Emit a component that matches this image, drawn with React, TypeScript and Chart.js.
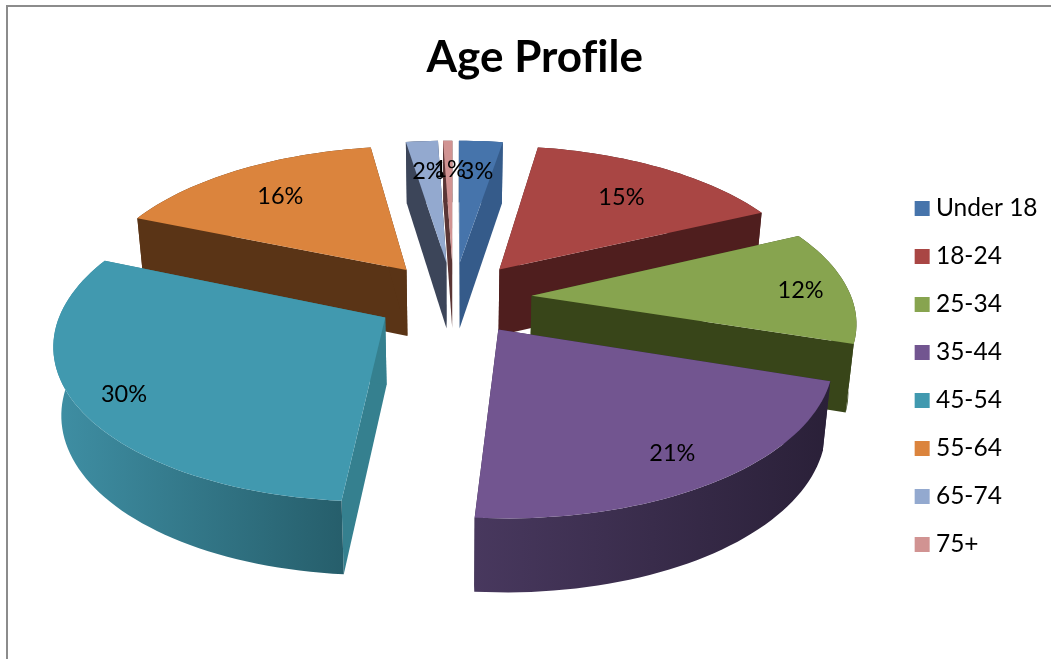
import React, { useEffect, useRef } from "react";
import { Chart, registerables } from "chart.js";

Chart.register(...registerables);

const categories = ["Under 18", "18-24", "25-34", "35-44", "45-54", "55-64", "65-74", "75+"];
const values = [2.6, 15.4, 12, 21.3, 30, 16.25, 1.9, 0.55];
const topColours = ["#4674AB", "#A94644", "#87A44F", "#725590", "#4199AF", "#DB843D", "#93A9CF", "#D19392"];
const faceColours = ["#355B8A", "#4F1E1E", "#384519", "#2E2340", "#35808F", "#5A3416", "#3C4559", "#5A3535"];
const wallLeft = ["#355B8A", "#4F1E1E", "#384519", "#48385E", "#3F8FA4", "#5A3416", "#3C4559", "#5A3535"];
const wallRight = ["#355B8A", "#4F1E1E", "#384519", "#2A2038", "#265E6B", "#5A3416", "#3C4559", "#5A3535"];
const labelReach = [0.75, 0.72, 0.85, 0.82, 0.86, 0.74, 0.75, 0.76];

const FONT = "Lato, 'Open Sans', sans-serif";
const CX = 453.5, CY = 298, RX = 320, RY = 150, DEPTH = 67, PERSPECTIVE = 0.15, EXPLODE = 0.245;

const project = (u: number, v: number, lower = false) => {
  const w = 1 - PERSPECTIVE * v;
  let x = CX + (RX * u) / w;
  let y = CY + (RY * v) / w;
  if (lower) {
    x = CX + (x - CX) * 0.98;
    y += DEPTH / Math.sqrt(w);
  }
  return { x, y };
};

const framePlugin = {
  id: "frame",
  beforeDraw(chart: any) {
    const { ctx, width, height } = chart;
    ctx.letterSpacing = "0.01px";
    ctx.save();
    ctx.fillStyle = "#ffffff";
    ctx.fillRect(0, 0, width, height);
    ctx.strokeStyle = "#8c8c8c";
    ctx.lineWidth = 2;
    ctx.beginPath();
    ctx.moveTo(7, height);
    ctx.lineTo(7, 6);
    ctx.lineTo(width, 6);
    ctx.stroke();
    ctx.restore();
  },
};

const pie3dPlugin = {
  id: "pie3d",
  beforeDatasetDraw() {
    return false;
  },
  afterDatasetsDraw(chart: any) {
    const { ctx } = chart;
    const arcs: any[] = chart.getDatasetMeta(0).data;
    const order = arcs
      .map((arc, i) => ({ arc, i, mid: (arc.startAngle + arc.endAngle) / 2 }))
      .sort((a, b) => Math.sin(a.mid) - Math.sin(b.mid));
    ctx.save();
    for (const { arc, i, mid } of order) {
      const ou = EXPLODE * Math.cos(mid);
      const ov = EXPLODE * Math.sin(mid);
      const pts: number[] = [];
      const steps = Math.max(2, Math.ceil((arc.endAngle - arc.startAngle) / 0.03));
      for (let s = 0; s <= steps; s++) pts.push(arc.startAngle + ((arc.endAngle - arc.startAngle) * s) / steps);
      const rim = (lower: boolean) => pts.map((a) => project(ou + Math.cos(a), ov + Math.sin(a), lower));
      const upper = rim(false);
      const under = rim(true);
      const tip = project(ou, ov);
      const tipLow = project(ou, ov, true);
      const fill = (poly: { x: number; y: number }[], style: any) => {
        ctx.beginPath();
        poly.forEach((p, n) => (n ? ctx.lineTo(p.x, p.y) : ctx.moveTo(p.x, p.y)));
        ctx.closePath();
        ctx.fillStyle = style;
        ctx.fill();
      };
      fill([tip, upper[0], under[0], tipLow], faceColours[i]);
      fill([tip, upper[steps], under[steps], tipLow], faceColours[i]);
      const wall = [...upper, ...[...under].reverse()];
      const xs = wall.map((p) => p.x);
      const grad = ctx.createLinearGradient(Math.min(...xs), 0, Math.max(...xs), 0);
      grad.addColorStop(0, wallLeft[i]);
      grad.addColorStop(1, wallRight[i]);
      fill(wall, grad);
      fill([tip, ...upper], topColours[i]);
    }
    ctx.fillStyle = "#000000";
    ctx.font = `23.5px ${FONT}`;
    ctx.textAlign = "center";
    ctx.textBaseline = "middle";
    arcs.forEach((arc, i) => {
      const mid = (arc.startAngle + arc.endAngle) / 2;
      const r = EXPLODE + labelReach[i];
      const p = project(r * Math.cos(mid), r * Math.sin(mid));
      ctx.fillText(`${Math.round(values[i])}%`, p.x + 1, p.y + 2.5);
    });
    ctx.restore();
  },
};

export default function App() {
  const ref = useRef<HTMLCanvasElement>(null);
  useEffect(() => {
    document.body.style.margin = "0";
    const chart = new Chart(ref.current as HTMLCanvasElement, {
      type: "pie",
      data: {
        labels: categories,
        datasets: [{ data: values, backgroundColor: topColours, borderColor: topColours, borderWidth: 12 }],
      },
      options: {
        responsive: false,
        animation: false,
        layout: { padding: { left: 22, right: 3.5, bottom: -94 } },
        plugins: {
          tooltip: { enabled: false },
          title: {
            display: true,
            text: "Age Profile",
            color: "#000000",
            font: { family: FONT, size: 44, weight: "bold" },
            padding: { top: 31, bottom: 9 },
          },
          legend: {
            position: "right",
            labels: {
              color: "#000000",
              font: { family: FONT, size: 24.5 },
              boxWidth: 3,
              boxHeight: 3,
              padding: 23.5,
            },
          },
        },
      } as any,
      plugins: [framePlugin, pie3dPlugin],
    });
    return () => chart.destroy();
  }, []);
  return <canvas ref={ref} width={1051} height={659} style={{ display: "block" }} />;
}
